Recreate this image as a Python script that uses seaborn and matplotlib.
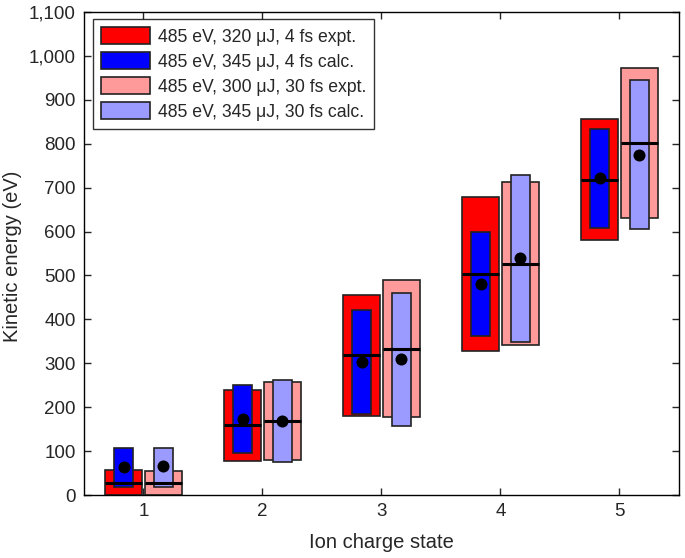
import numpy as np
import pandas as pd
import matplotlib
matplotlib.use("Agg")
import matplotlib.pyplot as plt
import seaborn as sns
from matplotlib.patches import Patch
from matplotlib.ticker import FuncFormatter

# Ion charge states
charge = [1, 2, 3, 4, 5]

# 485 eV, 320 uJ, 4 fs expt. (range low/high and median)
expt4_lo = [0, 78, 181, 329, 580]
expt4_hi = [57, 239, 455, 679, 856]
expt4_med = [27, 159, 318, 503, 718]

# 485 eV, 345 uJ, 4 fs calc. (range low/high and mean)
calc4_lo = [18, 96, 184, 362, 609]
calc4_hi = [108, 250, 421, 599, 833]
calc4_mean = [64, 174, 302, 480, 721]

# 485 eV, 300 uJ, 30 fs expt.
expt30_lo = [0, 80, 178, 342, 631]
expt30_hi = [54, 257, 490, 712, 972]
expt30_med = [27, 169, 333, 527, 802]

# 485 eV, 345 uJ, 30 fs calc.
calc30_lo = [18, 75, 158, 349, 605]
calc30_hi = [108, 263, 459, 728, 946]
calc30_mean = [65, 169, 309, 540, 775]

labels = ["485 eV, 320 \u03bcJ, 4 fs expt.", "485 eV, 345 \u03bcJ, 4 fs calc.",
          "485 eV, 300 \u03bcJ, 30 fs expt.", "485 eV, 345 \u03bcJ, 30 fs calc."]
colors = ["#ff0000", "#0000ff", "#ff9a9a", "#9a9aff"]

sns.set_style("ticks")
plt.rcParams["font.family"] = ["Liberation Sans", "DejaVu Sans"]

fig = plt.figure(figsize=(6.85, 5.58), dpi=100)
ax = fig.add_axes([0.1226, 0.1129, 0.8686, 0.8656])

x = np.array(charge, dtype=float)
off = 0.165
wide, narrow = 0.31, 0.16
edge = "#222222"

ax.bar(x - off, np.subtract(expt4_hi, expt4_lo), bottom=expt4_lo, width=wide,
       color=colors[0], edgecolor=edge, linewidth=1.2, zorder=2)
ax.bar(x - off, np.subtract(calc4_hi, calc4_lo), bottom=calc4_lo, width=narrow,
       color=colors[1], edgecolor=edge, linewidth=1.2, zorder=3)
ax.bar(x + off, np.subtract(expt30_hi, expt30_lo), bottom=expt30_lo, width=wide,
       color=colors[2], edgecolor=edge, linewidth=1.2, zorder=2)
ax.bar(x + off, np.subtract(calc30_hi, calc30_lo), bottom=calc30_lo, width=narrow,
       color=colors[3], edgecolor=edge, linewidth=1.2, zorder=3)

# median lines of experiments
ax.hlines(expt4_med, x - off - wide / 2, x - off + wide / 2, color="black", lw=2.2, zorder=4)
ax.hlines(expt30_med, x + off - wide / 2, x + off + wide / 2, color="black", lw=2.2, zorder=4)

# calculated mean points
dots = pd.DataFrame({
    "x": np.concatenate([x - off, x + off]),
    "y": calc4_mean + calc30_mean,
})
sns.scatterplot(data=dots, x="x", y="y", color="black", s=75, edgecolor="black",
                linewidth=0, zorder=5, ax=ax, legend=False)

ax.set_xlim(0.5, 5.5)
ax.set_ylim(0, 1100)
ax.set_xticks(charge)
ax.set_yticks(np.arange(0, 1101, 100))
ax.yaxis.set_major_formatter(FuncFormatter(lambda v, p: f"{int(v):,}"))
ax.tick_params(direction="in", top=True, right=True, labelsize=13.5, length=5, width=1,
               pad=6)
for s in ax.spines.values():
    s.set_linewidth(1)
    s.set_color("black")

ax.set_xlabel("Ion charge state", fontsize=14.5, labelpad=9)
ax.set_ylabel("Kinetic energy (eV)", fontsize=14.5)
ax.yaxis.set_label_coords(-0.104, 0.495)

handles = [Patch(facecolor=c, edgecolor=edge, linewidth=1.2) for c in colors]
leg = ax.legend(handles, labels, loc="upper left", fontsize=12.7, frameon=True,
                fancybox=False, edgecolor="black", handlelength=2.8, handleheight=1.14,
                borderpad=0.45, labelspacing=0.36, handletextpad=0.45,
                borderaxespad=0, bbox_to_anchor=(0.0146, 0.9855))
leg.get_frame().set_linewidth(1)

fig.savefig("out.png", dpi=100)
